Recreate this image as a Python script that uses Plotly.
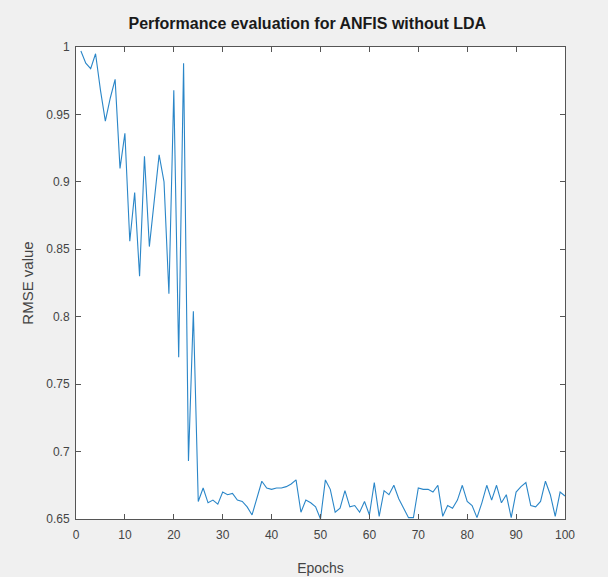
import plotly.graph_objects as go

epochs = list(range(1, 101))
rmse = [
    0.997, 0.988, 0.984, 0.995, 0.968, 0.945, 0.962, 0.976, 0.910, 0.936,
    0.856, 0.892, 0.830, 0.919, 0.852, 0.888, 0.920, 0.900, 0.817, 0.968,
    0.770, 0.988, 0.693, 0.804, 0.663, 0.673, 0.662, 0.664, 0.661, 0.670,
    0.668, 0.669, 0.664, 0.663, 0.659, 0.653, 0.665, 0.678, 0.673, 0.672,
    0.673, 0.673, 0.674, 0.676, 0.679, 0.655, 0.664, 0.662, 0.659, 0.650,
    0.679, 0.672, 0.655, 0.658, 0.671, 0.659, 0.660, 0.655, 0.663, 0.653,
    0.677, 0.652, 0.671, 0.668, 0.675, 0.665, 0.658, 0.651, 0.651, 0.673,
    0.672, 0.672, 0.670, 0.675, 0.652, 0.660, 0.658, 0.664, 0.675, 0.663,
    0.660, 0.651, 0.662, 0.675, 0.664, 0.675, 0.662, 0.668, 0.651, 0.670,
    0.674, 0.677, 0.660, 0.659, 0.663, 0.678, 0.668, 0.652, 0.670, 0.667,
]

x_ticks = [0, 10, 20, 30, 40, 50, 60, 70, 80, 90, 100]
y_ticks = [0.65, 0.7, 0.75, 0.8, 0.85, 0.9, 0.95, 1.0]
y_tick_labels = ["0.65", "0.7", "0.75", "0.8", "0.85", "0.9", "0.95", "1"]

fig = go.Figure()
fig.add_trace(go.Scatter(x=epochs, y=rmse, mode="lines",
                         line=dict(color="#2a86c8", width=1.1),
                         showlegend=False))

axis_common = dict(showline=True, linecolor="#555555", linewidth=1,
                   mirror="ticks", ticks="inside", ticklen=5, tickcolor="#555555",
                   showgrid=False, zeroline=False, automargin=False,
                   tickfont=dict(family="Liberation Sans, Arial", size=12, color="#444444"))

fig.update_layout(
    width=608, height=577,
    paper_bgcolor="#f0f0f0", plot_bgcolor="white",
    margin=dict(l=76, r=43, t=47, b=58),
    title=dict(text="<b>Performance evaluation for ANFIS without LDA</b>",
               x=0.473, xref="paper", xanchor="center",
               y=1, yref="paper", yanchor="bottom", pad=dict(b=18),
               font=dict(family="Liberation Sans, Arial", size=16, color="#1a1a1a")),
    xaxis=dict(range=[0, 100], tickvals=x_ticks, ticklabelstandoff=5,
               title=dict(text="Epochs", standoff=21,
                          font=dict(family="Liberation Sans, Arial", size=14, color="#444444")),
               **axis_common),
    yaxis=dict(range=[0.65, 1.0], tickvals=y_ticks, ticktext=y_tick_labels,
               ticklabelstandoff=3,
               title=dict(text="RMSE value", standoff=8,
                          font=dict(family="Liberation Sans, Arial", size=15, color="#444444")),
               **axis_common),
)

fig.write_html("out.html", config={"displayModeBar": False},
               post_script="document.body.style.margin='0';document.body.style.background='#f0f0f0';")
